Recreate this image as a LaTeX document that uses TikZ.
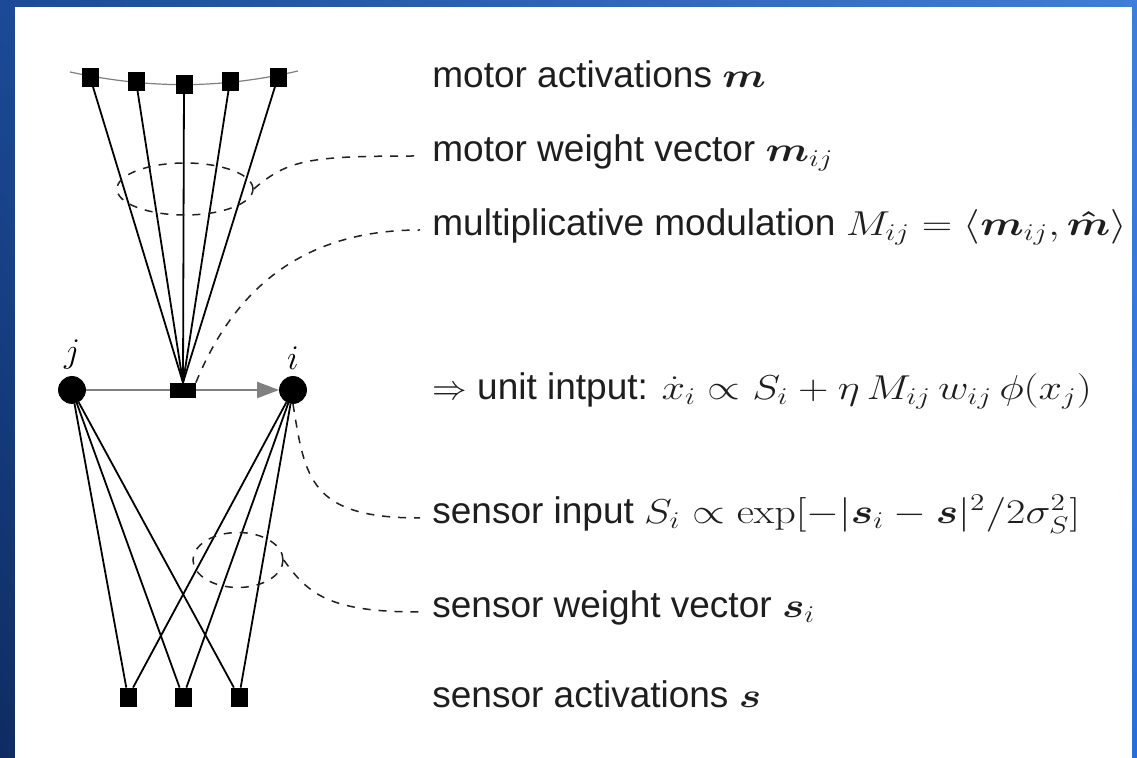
\documentclass[tikz,border=0pt]{standalone}
\usepackage[no-math]{fontspec}
\setmainfont{Liberation Sans}
\usepackage{amsmath,amssymb}
\usetikzlibrary{positioning,arrows.meta,shapes.geometric,shadings}
\definecolor{bgul}{RGB}{28,74,152}
\definecolor{bgur}{RGB}{62,126,218}
\definecolor{bgll}{RGB}{14,44,98}
\definecolor{bglr}{RGB}{40,110,222}
\definecolor{ink}{RGB}{30,30,30}
\newcommand\wmath[1]{\scalebox{1.22}[1]{$#1$}}

\begin{document}
\begin{tikzpicture}[x=0.5pt,y=0.5pt,%
	font=\fontsize{18.5}{22}\selectfont,%
	unit/.style={draw,circle,fill,inner sep=0pt,minimum size=13.5pt},%
	act/.style={draw,fill,inner sep=0pt,minimum width=8pt,minimum height=9pt},%
	leader/.style={gray!25!black,line width=0.75pt,dash pattern=on 4pt off 4pt},%
	wvec/.style={draw,ellipse,inner sep=0pt,leader},%
	txt/.style={anchor=mid west,inner xsep=6pt,inner ysep=0pt,text=ink},%
	link/.style={line width=0.9pt}]%
	% frame
	\useasboundingbox (0,0) rectangle (1137,-758);
	\shade[upper left=bgul,upper right=bgur,lower left=bgll,lower right=bglr]%
		(0,0) rectangle (1137,-758);
	\fill[white] (15,-7) rectangle (1132,-758);
	% motor layer
	\coordinate (arcl) at (70,-72);
	\coordinate (arcr) at (298,-71);
	\draw[gray,line width=0.6pt] (arcl) .. controls (150,-89) and (220,-89) .. (arcr);
	\foreach \n/\x/\y in {1/90/77,2/136/81,3/184/84,4/230/81,5/278/77}
		\node[act] (m\n) at (\x,-\y) {};
	% units
	\node[unit,label=above:$j$] (j) at (72,-390) {};
	\node[unit,label=above:$i$] (i) at (293,-390) {};
	\draw[gray,line width=1pt,-{Triangle[length=11pt,width=8pt]}] (j) -- (i);
	\node[draw,fill,inner sep=0pt,minimum width=12.5pt,minimum height=7pt] (mod) at (183,-390) {};
	% sensor layer
	\foreach \n/\x in {1/128,2/183,3/239}
		\node[act] (s\n) at (\x,-697) {};
	\foreach \n in {1,...,5}
		\draw[link] (m\n) -- (mod.north);
	\foreach \n in {1,2,3}{
		\draw[link] (j) -- (s\n);
		\draw[link] (i) -- (s\n);
	}
	\node[wvec,minimum width=68pt,minimum height=26pt] (mw) at (185,-189) {};
	\node[wvec,minimum width=45pt,minimum height=27.5pt] (sw) at (238,-560) {};
	% labels
	\node[txt] (tma) at (420,-82) {motor activations \wmath{\boldsymbol{m}}};
	\node[txt] (tmw) at (420,-156) {motor weight vector \wmath{\boldsymbol{m}_{ij}}};
	\node[txt] (tmm) at (420,-230) {multiplicative modulation \wmath{M_{ij}=\langle\boldsymbol{m}_{ij},\boldsymbol{\hat{m}}\rangle}};
	\node[txt] (tui) at (420,-394) {$\Rightarrow$ unit intput: \wmath{\dot{x}_i\propto S_i+\eta\,M_{ij}\,w_{ij}\,\phi(x_j)}};
	\node[txt] (tsi) at (420,-518) {sensor input \wmath{S_i\propto\exp[-|\boldsymbol{s}_i-\boldsymbol{s}|^2/2\sigma_S^2]}};
	\node[txt] (tsw) at (420,-612) {sensor weight vector \wmath{\boldsymbol{s}_i}};
	\node[txt] (tsa) at (420,-702) {sensor activations \wmath{\boldsymbol{s}}};
	\draw[leader] (mw.east) .. controls +(35,30) and +(-110,0) .. (tmw.mid west);
	\draw[leader] (mod.north east) .. controls +(45,110) and +(-100,0) .. (tmm.mid west);
	\draw[leader] (i.south) .. controls +(12,-75) and +(-110,0) .. (tsi.mid west);
	\draw[leader] (sw.east) .. controls +(25,-35) and +(-90,0) .. (tsw.mid west);
\end{tikzpicture}
\end{document}
